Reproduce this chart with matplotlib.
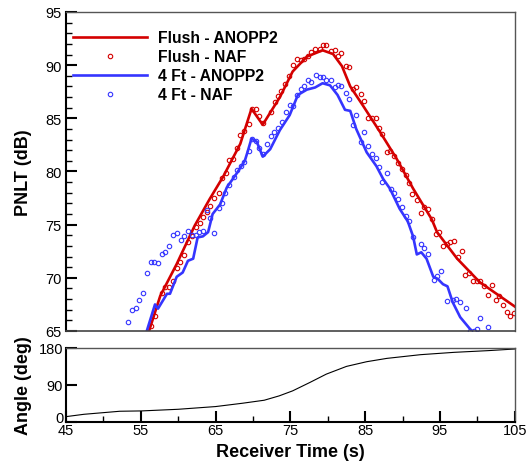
import numpy as np
import matplotlib
matplotlib.use("Agg")
import matplotlib.pyplot as plt
import matplotlib.transforms as mtransforms
from matplotlib.ticker import MultipleLocator

plt.rcParams['font.family'] = ['Liberation Sans', 'DejaVu Sans']

# Flush - ANOPP2 (line)
flush_t = [56.1, 57.6, 59.8, 62.2, 64.2, 66.0, 68.3, 69.8, 71.3, 73.6, 75.3, 77.2,
           79.3, 80.7, 81.9, 83.0, 84.7, 87.0, 89.2, 91.4, 93.9, 94.6, 97.3, 100.3, 105.0]
flush_db = [65.0, 68.3, 71.3, 74.9, 77.4, 79.5, 82.6, 85.9, 84.4, 87.0, 89.4, 90.8,
            91.4, 91.05, 89.9, 88.0, 86.2, 83.7, 81.2, 78.4, 75.5, 74.3, 71.8, 69.6, 67.3]

# Flush - NAF (markers)
flush_naf_t = [56.3, 56.9, 57.8, 58.2, 58.8, 59.3, 59.9, 60.3, 60.8, 61.3, 61.9, 62.4,
               62.9, 63.3, 63.8, 64.3, 64.8, 65.4, 65.8, 66.4, 66.8, 67.3, 67.8, 68.3,
               68.8, 69.4, 69.8, 70.4, 70.8, 71.4, 72.4, 72.9, 73.3, 73.8, 74.3, 74.8,
               75.4, 75.9, 76.4, 76.8, 77.4, 77.8, 78.3, 78.9, 79.3, 79.8, 80.4, 80.9,
               81.4, 81.8, 82.4, 82.9, 83.4, 83.8, 84.4, 84.9, 85.4, 85.9, 86.4, 86.9,
               87.3, 87.9, 88.3, 88.8, 89.4, 89.9, 90.4, 90.8, 91.3, 91.9, 92.4, 92.8,
               93.4, 93.9, 94.4, 94.8, 95.4, 95.9, 96.4, 96.9, 97.4, 97.9, 98.4, 98.9,
               99.4, 99.9, 100.4, 100.9, 101.4, 101.9, 102.5, 102.9, 103.4, 103.9, 104.4, 104.9]
flush_naf_db = [65.5, 66.4, 68.6, 69.1, 69.1, 69.7, 70.9, 71.5, 72.1, 73.4, 73.9, 74.8,
                75.2, 75.7, 76.2, 76.8, 77.5, 78.0, 79.4, 79.9, 81.1, 81.2, 82.2, 83.4,
                83.8, 84.5, 85.9, 85.9, 85.2, 84.6, 85.6, 86.5, 87.1, 87.6, 88.2, 89.0,
                90.0, 90.6, 90.5, 90.6, 90.9, 91.2, 91.5, 91.5, 91.9, 91.9, 91.3, 91.4,
                90.9, 91.1, 89.9, 89.8, 87.8, 87.9, 87.3, 86.6, 85.0, 85.0, 85.0, 84.1,
                83.5, 81.8, 81.9, 81.5, 80.8, 80.2, 79.7, 78.9, 77.9, 77.3, 76.1, 76.7,
                76.5, 75.5, 74.1, 74.3, 73.0, 73.2, 73.4, 73.5, 72.0, 72.5, 70.3, 70.5,
                69.7, 69.7, 69.7, 69.2, 68.4, 69.3, 67.9, 68.3, 67.4, 66.8, 66.4, 66.7]

# 4 Ft - ANOPP2 (line)
ft4_t = [55.8, 56.9, 57.3, 58.5, 58.9, 59.8, 60.6, 61.3, 62.0, 62.6, 63.3, 64.0, 64.6,
         65.6, 66.5, 67.8, 68.9, 69.3, 69.8, 70.5, 71.3, 72.3, 73.6, 74.9, 76.0, 77.2,
         78.3, 79.3, 80.3, 81.3, 82.3, 83.0, 83.8, 85.2, 86.5, 87.4, 88.3, 89.6, 90.7,
         91.4, 91.9, 92.5, 93.2, 94.1, 94.7, 95.4, 96.0, 96.7, 97.7, 99.0, 99.4]
ft4_db = [65.0, 67.5, 67.1, 68.5, 68.5, 70.1, 70.5, 71.6, 71.8, 73.8, 73.9, 74.3, 76.0,
          76.9, 78.5, 79.8, 81.0, 81.9, 83.1, 82.8, 81.4, 82.1, 83.9, 85.3, 87.2, 87.7,
          87.9, 88.3, 88.1, 87.2, 85.8, 85.7, 84.0, 81.8, 80.5, 79.3, 78.4, 76.5, 75.3,
          73.9, 72.2, 72.4, 71.8, 70.1, 69.9, 69.4, 69.2, 67.7, 66.3, 65.2, 64.9]

# 4 Ft - NAF (markers)
ft4_naf_t = [53.3, 53.8, 54.4, 54.8, 55.3, 55.8, 56.3, 56.8, 57.3, 57.8, 58.3, 58.8,
             59.3, 59.8, 60.4, 60.8, 61.3, 61.8, 62.4, 62.8, 63.3, 63.8, 64.3, 64.8,
             65.4, 65.9, 66.3, 66.8, 67.4, 67.8, 68.4, 68.8, 69.4, 69.8, 70.4, 70.8,
             71.4, 71.9, 72.4, 72.8, 73.4, 73.9, 74.4, 74.9, 75.3, 75.9, 76.4, 76.8,
             77.4, 77.8, 78.4, 78.9, 79.3, 79.8, 80.4, 80.9, 81.4, 81.8, 82.4, 82.9,
             83.4, 83.8, 84.4, 84.8, 85.4, 85.9, 86.4, 86.8, 87.3, 87.9, 88.4, 88.9,
             89.4, 89.9, 90.4, 90.9, 91.4, 92.4, 92.9, 93.4, 94.2, 94.6, 95.1, 95.9,
             96.7, 97.2, 97.7, 98.5, 99.0, 99.5, 99.9, 100.4, 101.4]
ft4_naf_db = [65.8, 67.0, 67.2, 67.9, 68.6, 70.5, 71.5, 71.5, 71.4, 72.2, 72.4, 73.0,
              74.0, 74.2, 73.6, 73.9, 74.4, 74.0, 74.0, 74.3, 74.4, 76.4, 75.6, 74.2,
              76.6, 77.0, 78.0, 78.7, 79.5, 80.1, 80.5, 80.9, 81.9, 83.1, 82.9, 82.2,
              81.6, 82.6, 83.3, 83.7, 84.1, 84.7, 85.6, 86.3, 86.2, 87.2, 87.8, 88.0,
              88.6, 88.4, 89.1, 88.9, 88.9, 88.6, 88.6, 87.9, 88.1, 88.0, 87.4, 86.8,
              84.4, 85.3, 82.8, 83.7, 82.4, 81.6, 81.3, 80.4, 79.0, 79.9, 78.4, 78.0,
              77.4, 76.7, 75.8, 75.3, 73.8, 73.2, 72.8, 72.2, 69.8, 70.2, 70.6, 67.8,
              67.9, 68.0, 67.7, 67.2, 65.0, 65.0, 65.2, 66.2, 65.4]

# directivity angle
angle_t = [45.0, 47.4, 52.2, 55.1, 60.0, 65.0, 68.6, 71.5, 73.5, 75.3, 77.6, 79.8,
           82.5, 85.2, 87.9, 92.4, 96.9, 101.4, 105.0]
angle_deg = [13.0, 18.7, 26.1, 26.9, 30.9, 37.5, 45.6, 52.9, 63.5, 75.7, 96.1, 116.4,
             135.2, 146.6, 154.7, 163.7, 169.4, 173.5, 177.5]

red = '#d40000'
blue = '#3535ff'

fig = plt.figure(figsize=(5.28, 4.64), dpi=100)
ax = fig.add_axes([0.125, 0.2845, 0.85, 0.6875])
ax2 = fig.add_axes([0.125, 0.0884, 0.85, 0.1595])

ax.plot(flush_t, flush_db, color=red, lw=1.9, label='Flush - ANOPP2')
ax.plot(flush_naf_t, flush_naf_db, ls='none', marker='o', ms=3.2, mfc='none',
        mec=red, mew=0.8, label='Flush - NAF')
ax.plot(ft4_t, ft4_db, color=blue, lw=1.9, label='4 Ft - ANOPP2')
ax.plot(ft4_naf_t, ft4_naf_db, ls='none', marker='o', ms=3.2, mfc='none',
        mec=blue, mew=0.8, label='4 Ft - NAF')

ax.set_xlim(45, 105)
ax.set_ylim(65, 95)
ax.yaxis.set_major_locator(MultipleLocator(5))
ax.yaxis.set_minor_locator(MultipleLocator(1))
ax.tick_params(axis='y', which='major', direction='in', length=8, width=1.5, labelsize=10.5, pad=3)
ax.tick_params(axis='y', which='minor', direction='in', length=4, width=1.0)
ax.tick_params(axis='x', which='both', bottom=False, labelbottom=False)
ax.set_ylabel('PNLT (dB)', fontsize=13, fontweight='bold')
ax.yaxis.set_label_coords(-0.075, 0.5)

leg = ax.legend(loc='upper left', bbox_to_anchor=(0.0156, 0.942), frameon=False,
                borderaxespad=0, borderpad=0, handlelength=4.7, handletextpad=0.7,
                labelspacing=0.25, numpoints=1, prop={'size': 11.3, 'weight': 'bold'})

ax2.plot(angle_t, angle_deg, color='black', lw=0.8)
ax2.set_xlim(45, 105)
ax2.set_ylim(0, 180)
ax2.set_yticks([0, 90, 180])
ax2.xaxis.set_minor_locator(MultipleLocator(5))
ax2.set_xticks(np.arange(45, 106, 10))
ax2.tick_params(axis='both', which='major', direction='in', length=8, width=1.5, labelsize=10.5, pad=2)
ax2.tick_params(axis='x', which='both', pad=0.5)
ax2.tick_params(axis='x', which='minor', direction='in', length=4, width=1.0)
ax2.set_xlabel('Receiver Time (s)', fontsize=13, fontweight='bold')
ax2.xaxis.set_label_coords(0.5, -0.28)
ax2.set_ylabel('Angle (deg)', fontsize=13, fontweight='bold')
ax2.yaxis.set_label_coords(-0.075, 0.5)

# lift the "0" label a little, as in the original, so it clears "45"
fig.canvas.draw()
zero_lbl = ax2.get_yticklabels()[0]
zero_lbl.set_transform(zero_lbl.get_transform() +
                       mtransforms.ScaledTranslation(0, 5 / 100, fig.dpi_scale_trans))

for a in (ax, ax2):
    a.spines['left'].set_linewidth(1.5)
    a.spines['top'].set_linewidth(1.0)
    a.spines['top'].set_color('#555555')
    a.spines['right'].set_linewidth(1.0)
    a.spines['right'].set_color('#555555')
ax.spines['bottom'].set_linewidth(1.2)
ax.spines['bottom'].set_color('#444444')
ax2.spines['bottom'].set_linewidth(1.5)

fig.savefig('out.png', dpi=100)
